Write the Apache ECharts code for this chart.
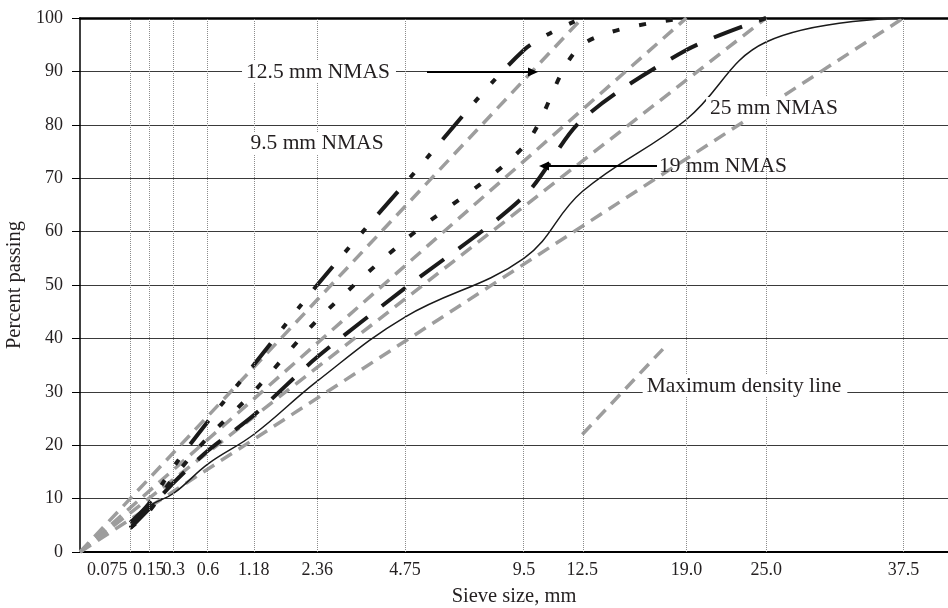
<!DOCTYPE html>
<html><head><meta charset="utf-8">
<script src="https://cdn.jsdelivr.net/npm/echarts@6/dist/echarts.min.js"></script>
<style>html,body{margin:0;padding:0;background:#fff}#c{width:948px;height:608px}</style>
</head><body><div id="c"></div><script>
// ---- data ----
const sieveSizes = [0.075, 0.15, 0.3, 0.6, 1.18, 2.36, 4.75, 9.5, 12.5, 19.0, 25.0, 37.5];
const sieveLabels = ['0.075', '0.15', '0.3', '0.6', '1.18', '2.36', '4.75', '9.5', '12.5', '19.0', '25.0', '37.5'];
const nmas95 = [5.5, 9, 16, 24.5, 35, 50, 69, 94, 100];
const nmas125 = [4.5, 7.5, 14, 21.5, 30, 43.4, 58.4, 76, 95, 100];
const nmas19 = [4.5, 8, 13, 19, 25.6, 36.5, 49.4, 66.6, 81, 94, 100];
const nmas25 = [4.5, 8.5, 11, 16.5, 22, 32, 44, 55, 67.5, 81, 95.5, 100];
const maxDensitySizes = [12.5, 19.0, 25.0, 37.5];
const keySizes = [12.5, 17.4];
const keyPassing = [22, 38];

const P = 0.45;
const tr = s => Math.pow(s, P);
const tx = sieveSizes.map(tr);
const font = "'Liberation Serif','DejaVu Serif',serif";
const ink = '#231f20';
const black = '#1a1a1a';
const gray = '#9d9d9d';

const curve = (vals) => vals.map((v, i) => [tx[i], v]);

const chart = echarts.init(document.getElementById('c'), null, {renderer: 'canvas'});

const series = [];
// vertical dotted sieve lines
series.push({
  type: 'line', data: [[0, 0]], showSymbol: false, silent: true,
  lineStyle: {opacity: 0},
  markLine: {
    silent: true, symbol: ['none', 'none'], label: {show: false}, animation: false,
    lineStyle: {type: 'dotted', color: '#8c8c8c', width: 1},
    data: tx.map(t => ({xAxis: t}))
  }
});
// maximum density lines
maxDensitySizes.forEach(d => {
  series.push({
    type: 'line', showSymbol: false, silent: true,
    data: [[0, 0], [tr(d), 100]],
    lineStyle: {color: gray, width: 3.5, type: [13, 8], cap: 'butt'}
  });
});
// key sample
series.push({
  type: 'line', showSymbol: false, silent: true,
  data: keySizes.map((s, i) => [tr(s), keyPassing[i]]),
  lineStyle: {color: gray, width: 3.5, type: [13, 8], cap: 'butt'}
});
// gradations
series.push({type: 'line', showSymbol: false, smooth: 0.3, data: curve(nmas95),
  lineStyle: {color: black, width: 4, type: [30, 19, 6, 19, 6, 19], cap: 'butt'}});
series.push({type: 'line', showSymbol: false, smooth: 0.3, data: curve(nmas125),
  lineStyle: {color: black, width: 4, type: [7, 20], cap: 'butt'}});
series.push({type: 'line', showSymbol: false, smooth: 0.3, data: curve(nmas19),
  lineStyle: {color: black, width: 4, type: [30, 18], cap: 'butt'}});
series.push({type: 'line', showSymbol: false, smooth: 0.4, data: curve(nmas25),
  lineStyle: {color: black, width: 1.5, type: 'solid'}});

const txtStyle = (text, x, y, bg) => ({
  type: 'text', x: x, y: y, z: 100,
  style: {text: text, font: "21.5px " + font, fill: ink, align: 'center', verticalAlign: 'middle',
    backgroundColor: bg ? '#fff' : null, padding: bg ? [0, 6, 0, 4] : 0}
});

const option = {
  animation: false,
  backgroundColor: '#fff',
  grid: {left: 80, right: 0, top: 18, bottom: 56, containLabel: false, outerBoundsMode: 'none'},
  xAxis: [{
    type: 'value', min: 0, max: 5.385,
    name: 'Sieve size, mm', nameLocation: 'middle', nameGap: 34,
    nameTextStyle: {fontFamily: font, fontSize: 20.5, color: ink},
    axisLine: {show: true, lineStyle: {color: '#000', width: 2}},
    axisTick: {show: false},
    splitLine: {show: false},
    axisLabel: {
      customValues: tx, margin: 9, fontFamily: font, fontSize: 18, color: ink,
      formatter: v => {
        const i = tx.findIndex(t => Math.abs(t - v) < 1e-9);
        if (i === 0) return '{l|' + sieveLabels[0] + '}';
        return i >= 0 ? sieveLabels[i] : '';
      },
      rich: {l: {fontFamily: font, fontSize: 18, color: ink, padding: [0, 46, 0, 0]}}
    }
  }, {
    type: 'value', min: 0, max: 5.385, position: 'top',
    axisLine: {show: true, lineStyle: {color: '#000', width: 2.5}},
    axisTick: {show: false}, axisLabel: {show: false}, splitLine: {show: false}
  }],
  yAxis: {
    type: 'value', min: 0, max: 100, interval: 10,
    name: 'Percent passing', nameLocation: 'middle', nameGap: 54,
    nameTextStyle: {fontFamily: font, fontSize: 20.5, color: ink},
    axisLine: {show: true, lineStyle: {color: '#000', width: 1.5}},
    axisTick: {show: true, length: 8, lineStyle: {color: '#000', width: 1}},
    axisLabel: {margin: 17, fontFamily: font, fontSize: 18, color: ink},
    splitLine: {show: true, lineStyle: {color: '#3a3a3a', width: 1}}
  },
  series: series,
  graphic: {elements: [
    txtStyle('12.5 mm NMAS', 319, 72, true),
    txtStyle('9.5 mm NMAS', 318, 143, true),
    txtStyle('25 mm NMAS', 775, 108, true),
    txtStyle('19 mm NMAS', 723, 166, false),
    txtStyle('Maximum density line', 745, 386, true),
    {type: 'line', z: 100, shape: {x1: 427, y1: 72, x2: 530, y2: 72}, style: {stroke: '#000', lineWidth: 2}},
    {type: 'polygon', z: 100, shape: {points: [[538, 72], [528, 67.5], [528, 76.5]]}, style: {fill: '#000'}},
    {type: 'line', z: 100, shape: {x1: 657, y1: 166, x2: 547, y2: 166}, style: {stroke: '#000', lineWidth: 2}},
    {type: 'polygon', z: 100, shape: {points: [[539, 166], [549, 161.5], [549, 170.5]]}, style: {fill: '#000'}}
  ]}
};
chart.setOption(option);
</script></body></html>
